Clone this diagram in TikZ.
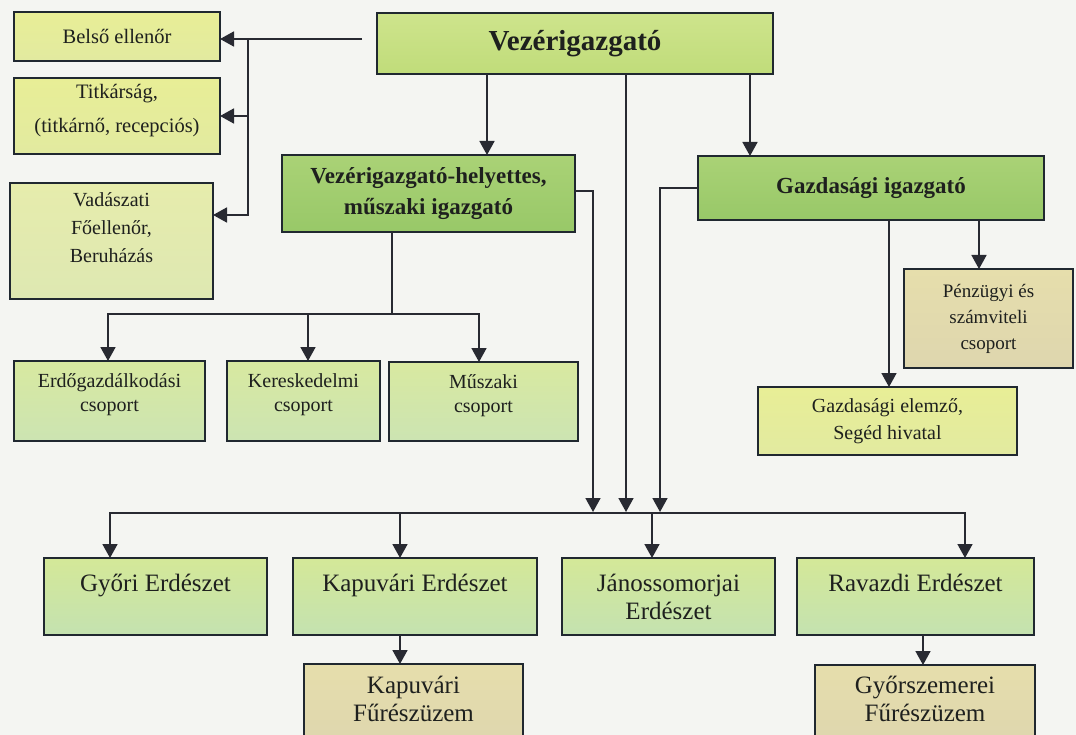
\documentclass[tikz,border=0pt]{standalone}
\usepackage{fontspec}
\setmainfont{Liberation Serif}
\usetikzlibrary{arrows.meta}
\definecolor{bgc}{RGB}{244,245,242}
\definecolor{boxline}{RGB}{32,40,48}
\definecolor{lnc}{RGB}{40,42,50}
\definecolor{txt}{RGB}{30,32,30}
\definecolor{vezA}{RGB}{206,228,140}
\definecolor{vezB}{RGB}{192,220,122}
\definecolor{dirA}{RGB}{170,210,118}
\definecolor{dirB}{RGB}{152,200,104}
\definecolor{yelA}{RGB}{232,238,150}
\definecolor{yelB}{RGB}{226,234,160}
\definecolor{palA}{RGB}{230,236,172}
\definecolor{palB}{RGB}{222,232,178}
\definecolor{grpA}{RGB}{216,233,160}
\definecolor{grpB}{RGB}{204,228,178}
\definecolor{botA}{RGB}{212,232,152}
\definecolor{botB}{RGB}{196,226,176}
\definecolor{tanA}{RGB}{230,222,172}
\definecolor{tanB}{RGB}{222,214,174}
\newcommand{\orgbox}[7]{%
  \node[#1, minimum width={(#5-#3)*1pt}, minimum height={(#6-#4)*1pt}]
    (#2) at ({(#3+#5)/2},{(#4+#6)/2}) {#7};}
\tikzset{
  box/.style={draw=boxline, line width=1.5pt, inner sep=0pt, outer sep=0pt, align=center, text=txt},
  vezS/.style={box, top color=vezA, bottom color=vezB, font=\fontsize{29}{34}\selectfont\bfseries},
  dirS/.style={box, top color=dirA, bottom color=dirB, font=\fontsize{23}{31}\selectfont\bfseries},
  yelS/.style={box, top color=yelA, bottom color=yelB, font=\fontsize{20.5}{34}\selectfont},
  palS/.style={box, top color=palA, bottom color=palB, font=\fontsize{20}{28}\selectfont},
  grpS/.style={box, top color=grpA, bottom color=grpB, font=\fontsize{20}{24}\selectfont},
  botS/.style={box, top color=botA, bottom color=botB, font=\fontsize{25}{28}\selectfont},
  tanS/.style={box, top color=tanA, bottom color=tanB, font=\fontsize{19}{26}\selectfont},
  fuS/.style={box, top color=tanA, bottom color=tanB, font=\fontsize{25}{28}\selectfont},
  line/.style={draw=lnc, line width=1.7pt},
  arr/.style={line, -{Triangle[width=15pt,length=14pt]}},
}
\begin{document}
\begin{tikzpicture}[x=1pt,y=-1pt]
\useasboundingbox (0,0) rectangle (1076,735);
\clip (0,0) rectangle (1076,735);
\fill[bgc] (0,0) rectangle (1076,735);

% boxes
\orgbox{vezS}{vez}{377}{13}{773}{74}{Vezérigazgató}
\orgbox{yelS}{bels}{14}{12}{220}{61}{Belső ellenőr}
\orgbox{yelS, text depth=16pt}{titk}{14}{78}{220}{154}{Titkárság,\\(titkárnő, recepciós)}
\orgbox{palS, text depth=26pt}{vad}{10}{183}{213}{299}{Vadászati\\Főellenőr,\\Beruházás}
\orgbox{dirS}{vh}{282}{155}{575}{232}{Vezérigazgató-helyettes,\\műszaki igazgató}
\orgbox{dirS}{gazd}{698}{156}{1044}{220}{Gazdasági igazgató}
\orgbox{tanS}{penz}{904}{269}{1073}{368}{Pénzügyi és\\számviteli\\csoport}
\orgbox{yelS, font=\fontsize{20}{27}\selectfont}{gelem}{758}{387}{1017}{455}{Gazdasági elemző,\\Segéd hivatal}
\orgbox{grpS, text depth=16pt}{erdo}{14}{361}{205}{441}{Erdőgazdálkodási\\csoport}
\orgbox{grpS, text depth=16pt}{keres}{227}{361}{380}{441}{Kereskedelmi\\csoport}
\orgbox{grpS, text depth=16pt}{musz}{389}{362}{578}{441}{Műszaki\\csoport}
\orgbox{botS}{gyori}{44}{558}{267}{635}{Győri Erdészet\\\mbox{}}
\orgbox{botS}{kapuE}{293}{558}{537}{635}{Kapuvári Erdészet\\\mbox{}}
\orgbox{botS}{janos}{562}{558}{775}{635}{Jánossomorjai\\Erdészet}
\orgbox{botS}{ravazdi}{797}{558}{1034}{635}{Ravazdi Erdészet\\\mbox{}}
\orgbox{fuS, text depth=12pt}{kapuF}{304}{664}{523}{745}{Kapuvári\\Fűrészüzem}
\orgbox{fuS, text depth=12pt}{gyorszF}{815}{665}{1035}{745}{Győrszemerei\\Fűrészüzem}

% column coordinates
\coordinate (lt) at (248,39);
\coordinate (c487) at (487,0);
\coordinate (c750) at (750,0);
\coordinate (c626) at (626,0);
\coordinate (c593) at (593,0);
\coordinate (c660) at (660,0);
\coordinate (c110) at (110,0);
\coordinate (c400) at (400,0);
\coordinate (c652) at (652,0);
\coordinate (c965) at (965,0);
\coordinate (c392) at (392,0);
\coordinate (c108) at (108,0);
\coordinate (c308) at (308,0);
\coordinate (c479) at (479,0);
\coordinate (c979) at (979,0);
\coordinate (c889) at (889,0);
\coordinate (c923) at (923,0);
\coordinate (busM) at (626,513);
\coordinate (sb) at (392,314);
\coordinate (vadE) at ([yshift=26pt]vad.east);

% staff connectors
\draw[line, shorten <=15pt] ([yshift=4.5pt]vez.west) -- (lt);
\draw[arr] (lt) -- (lt -| bels.east);
\draw[arr] (lt |- titk.east) -- (titk.east);
\draw[arr] (lt) |- (vadE);

% directors
\draw[arr] (vez.south -| c487) -- (vh.north -| c487);
\draw[arr] (vez.south -| c750) -- (gazd.north -| c750);

% to the bus
\draw[arr] (vez.south -| c626) -- ([yshift=1pt]busM);
\draw[arr] ([yshift=2.5pt]vh.east) -| ([yshift=1pt]busM -| c593);
\draw[arr] (gazd.west) -| ([yshift=1pt]busM -| c660);

% bus
\draw[arr] (busM) -| (gyori.north -| c110);
\draw[arr] (busM) -| (ravazdi.north -| c965);
\draw[arr] (busM -| c400) -- (kapuE.north -| c400);
\draw[arr] (busM -| c652) -- (janos.north -| c652);

% technical groups
\draw[line] (vh.south -| c392) -- (sb);
\draw[arr] (sb) -| (erdo.north -| c108);
\draw[arr] (sb) -| (musz.north -| c479);
\draw[arr] (sb -| c308) -- (keres.north -| c308);

% economic
\draw[arr] (gazd.south -| c979) -- (penz.north -| c979);
\draw[arr] (gazd.south -| c889) -- (gelem.north -| c889);

% sawmills
\draw[arr] (kapuE.south -| c400) -- (kapuF.north -| c400);
\draw[arr] (ravazdi.south -| c923) -- (gyorszF.north -| c923);
\end{tikzpicture}
\end{document}
